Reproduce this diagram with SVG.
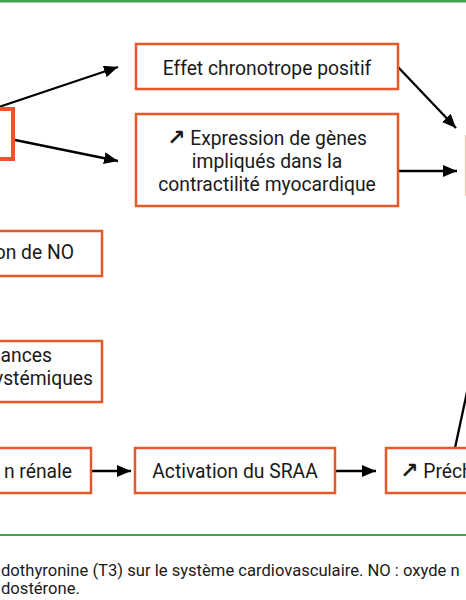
<svg xmlns="http://www.w3.org/2000/svg" width="466" height="600" viewBox="0 0 466 600">
<defs>
<marker id="ah" markerWidth="14" markerHeight="12" refX="14" refY="6" orient="auto" markerUnits="userSpaceOnUse">
<path d="M0,0 L14,6 L0,12 Z" fill="#000"/>
</marker>
<style>
.box{fill:#fff;stroke:#E6582B;stroke-width:2.5}
.t{font-family:Roboto,"Liberation Sans",sans-serif;font-size:19.3px;fill:#1a1a1a}
.c{font-family:Roboto,"Liberation Sans",sans-serif;font-size:16.6px;fill:#1a1a1a}
.b{font-weight:bold;font-family:"DejaVu Sans",sans-serif;font-size:22px}
.ln{stroke:#000;stroke-width:2.3;fill:none}
.ar{stroke:#000;stroke-width:2.3;fill:none;marker-end:url(#ah)}
</style>
</defs>
<rect width="466" height="600" fill="#fff"/>
<line x1="0" y1="1.2" x2="466" y2="1.2" stroke="#3FA34D" stroke-width="2.8"/>
<line x1="0" y1="535" x2="466" y2="535" stroke="#3FA34D" stroke-width="2.2"/>

<g id="connectors">
<path class="ar" d="M-10,110 L118,67"/>
<path class="ar" d="M15,140 L118,161"/>
<path class="ar" d="M398,67 L456,128"/>
<path class="ar" d="M398,171 L457,171"/>
<path class="ar" d="M92,471 L131,471"/>
<path class="ar" d="M336,471 L376,471"/>
<path class="ln" d="M455,448 L467,392"/>
</g>

<g id="node-t3">
<rect x="-20" y="109" width="33" height="50" fill="#fff" stroke="#E6582B" stroke-width="4"/>
</g>
<g id="node-chronotrope">
<rect class="box" x="136" y="44" width="262" height="45"/>
<text class="t" x="267" y="75" text-anchor="middle">Effet chronotrope positif</text>
</g>
<g id="node-expression">
<rect class="box" x="136" y="114" width="262" height="92"/>
<text class="t" x="267" y="145" text-anchor="middle"><tspan class="b">↗</tspan> Expression de gènes</text>
<text class="t" x="267" y="168" text-anchor="middle">impliqués dans la</text>
<text class="t" x="267" y="191" text-anchor="middle">contractilité myocardique</text>
</g>
<g id="node-right">
<line x1="465.5" y1="135" x2="465.5" y2="196" stroke="#EEC8AC" stroke-width="1.2"/>
</g>
<g id="node-no">
<rect class="box" x="-20" y="231" width="122" height="45"/>
<text class="t" x="74" y="259" text-anchor="end">on de NO</text>
</g>
<g id="node-resistances">
<rect class="box" x="-20" y="341" width="122" height="61"/>
<text class="t" x="52" y="362" text-anchor="end">ances</text>
<text class="t" x="93" y="385" text-anchor="end">ystémiques</text>
</g>
<g id="node-renale">
<rect class="box" x="-20" y="448" width="111" height="45"/>
<text class="t" x="72" y="478" text-anchor="end">n rénale</text>
</g>
<g id="node-sraa">
<rect class="box" x="135" y="448" width="200" height="45"/>
<text class="t" x="235" y="478" text-anchor="middle">Activation du SRAA</text>
</g>
<g id="node-precharge">
<rect class="box" x="386" y="448" width="100" height="45"/>
<text class="t" x="400" y="478"><tspan class="b">↗</tspan> Préch</text>
</g>
<g id="caption">
<text class="c" x="1" y="576">dothyronine (T3) sur le système cardiovasculaire. NO : oxyde n</text>
<text class="c" x="1" y="594">dostérone.</text>
</g>
</svg>
